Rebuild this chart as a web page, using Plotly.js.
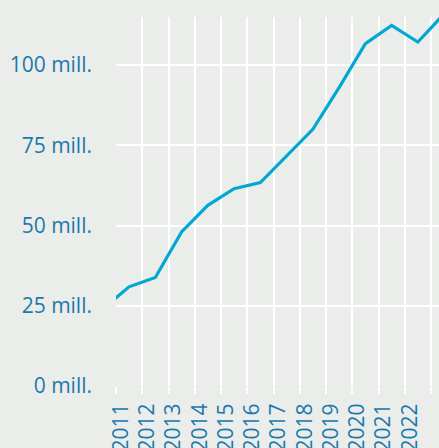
<!DOCTYPE html>
<html>
<head>
<meta charset="utf-8">
<script src="https://cdn.plot.ly/plotly-3.0.1.min.js"></script>
<style>
  html, body { margin: 0; padding: 0; background: #ebedea; }
  #chart { width: 439px; height: 448px; }
</style>
</head>
<body>
<div id="chart"></div>
<script>
// Data (values in millions, observed at mid-year)
const years = [2010, 2011, 2012, 2013, 2014, 2015, 2016, 2017, 2018, 2019, 2020, 2021, 2022, 2023];
const values = [24, 30.9, 33.8, 48.0, 56.3, 61.5, 63.4, 71.8, 80.0, 93.0, 106.7, 112.4, 107.2, 116.0];

const tickYears = [2011, 2012, 2013, 2014, 2015, 2016, 2017, 2018, 2019, 2020, 2021, 2022, 2023];
const yTickVals = [0, 25, 50, 75, 100];
const yTickText = ['0 mill.', '25 mill.', '50 mill.', '75 mill.', '100 mill.'];

const textColor = '#1a79ad';
const bg = '#ebedea';

const trace = {
  x: years.map(y => y + '-07-01'),
  y: values,
  type: 'scatter',
  mode: 'lines',
  line: { color: '#00a8d2', width: 3.2 },
  hoverinfo: 'skip'
};

const layout = {
  width: 439,
  height: 448,
  margin: { l: 116, r: 0, t: 17, b: 62 },
  paper_bgcolor: bg,
  plot_bgcolor: bg,
  showlegend: false,
  font: { family: 'Open Sans, Noto Sans, sans-serif', color: textColor, size: 21 },
  xaxis: {
    type: 'date',
    range: ['2011-01-01', '2023-04-21'],
    tickmode: 'array',
    tickvals: tickYears.map(y => y + '-01-01'),
    ticktext: tickYears.map(String),
    tickangle: -90,
    ticks: 'outside',
    ticklen: 7,
    tickwidth: 2,
    tickcolor: '#ffffff',
    ticklabelstandoff: 1,
    ticklabelshift: 5,
    showgrid: true,
    gridcolor: '#ffffff',
    gridwidth: 2,
    zeroline: false,
    showline: false,
    tickfont: { size: 21, color: textColor }
  },
  yaxis: {
    range: [0, 115],
    tickmode: 'array',
    tickvals: yTickVals,
    ticktext: yTickText,
    ticks: '',
    showgrid: true,
    gridcolor: '#ffffff',
    gridwidth: 2,
    zeroline: false,
    showline: false,
    ticklabelstandoff: 23,
    tickfont: { size: 21, color: textColor }
  }
};

Plotly.newPlot('chart', [trace], layout, { displayModeBar: false, staticPlot: true });
</script>
</body>
</html>
